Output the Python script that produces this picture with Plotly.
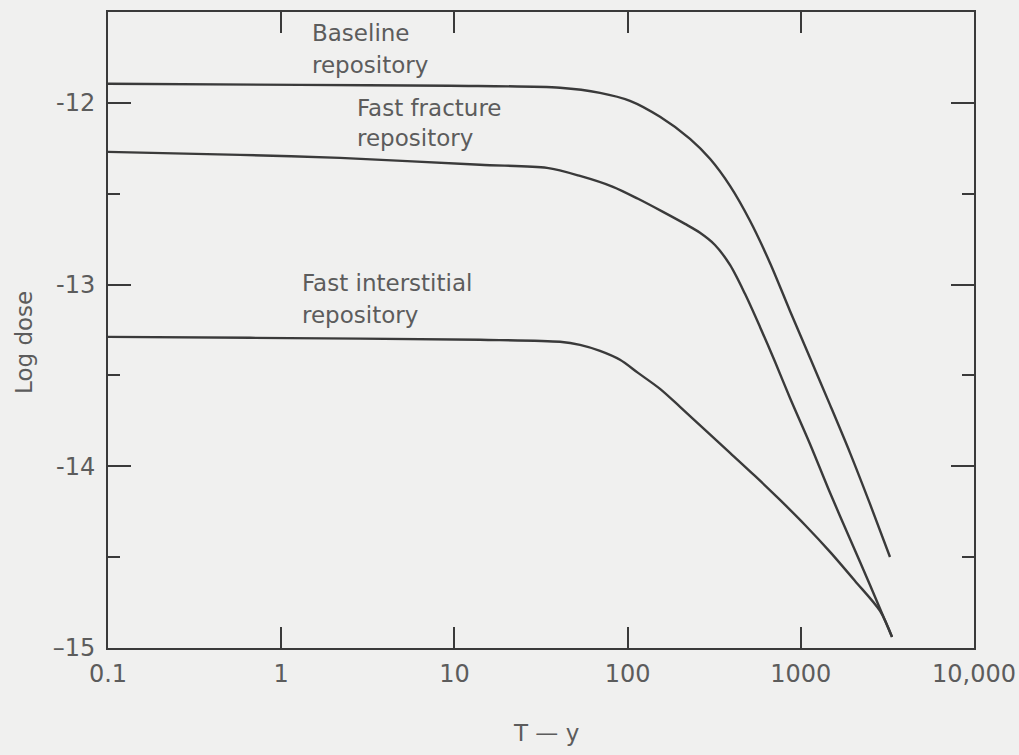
import plotly.graph_objects as go

# Time after closure (years) and log dose for each repository case
baseline_t = [0.1, 1.28, 9.43, 40.7, 69.3, 103.2, 153.9, 229.3, 299, 390.2, 508.9,
              664, 866.3, 1130, 1475, 1924, 2509, 3273]
baseline_dose = [-11.895, -11.901, -11.906, -11.917, -11.945, -11.989, -12.077,
                 -12.198, -12.308, -12.457, -12.649, -12.881, -13.145, -13.403,
                 -13.662, -13.926, -14.207, -14.499]

fracture_t = [0.1, 0.578, 2.185, 14.05, 34.25, 53.1, 82.3, 114.9, 160.1, 214.5,
              261.8, 319.5, 390.2, 476.1, 581.3, 709.8, 866.3, 1130, 1475, 1924,
              2509, 3362]
fracture_dose = [-12.270, -12.286, -12.303, -12.341, -12.358, -12.402, -12.462,
                 -12.528, -12.600, -12.666, -12.715, -12.782, -12.892, -13.051,
                 -13.233, -13.425, -13.624, -13.877, -14.146, -14.400, -14.653,
                 -14.939]

interstitial_t = [0.1, 0.661, 14.05, 40.7, 53.1, 69.3, 90.4, 114.9, 153.9, 200.8,
                  279.9, 390.2, 543.9, 758.5, 1057.5, 1475, 2056, 2866, 3362]
interstitial_dose = [-13.288, -13.293, -13.304, -13.315, -13.332, -13.365, -13.414,
                     -13.486, -13.574, -13.673, -13.800, -13.926, -14.053, -14.185,
                     -14.323, -14.471, -14.631, -14.796, -14.939]

x_tickvals = [0.1, 1, 10, 100, 1000, 10000]
x_ticktext = ["0.1", "1", "10", "100", "1000", "10,000"]
y_tickvals = [-15, -14, -13, -12]
y_ticktext = ["\u201315", "-14", "-13", "-12"]

labels = {
    "baseline": ["Baseline", "repository"],
    "fracture": ["Fast fracture", "repository"],
    "interstitial": ["Fast interstitial", "repository"],
}

LINE = "#3a3a3a"
TEXT = "#5c5c5c"
BG = "#f0f0ef"
FONT = "DejaVu Sans, Verdana, sans-serif"

# plot-area edges in pixels, used to place the axis titles
L, R, T, B = 108, 974, 12, 648

fig = go.Figure()
for t, d in [(baseline_t, baseline_dose), (fracture_t, fracture_dose),
             (interstitial_t, interstitial_dose)]:
    fig.add_trace(go.Scatter(
        x=t, y=d, mode="lines",
        line=dict(color=LINE, width=2.4, shape="spline", smoothing=0.85),
        showlegend=False, hoverinfo="skip",
    ))

# curve labels, one annotation per text line (log10 x positions)
label_pos = {
    "baseline": (0.166, [-11.615, -11.79]),
    "fracture": (0.426, [-12.028, -12.193]),
    "interstitial": (0.109, [-12.99, -13.167]),
}
annotations = []
for key, lines in labels.items():
    lx, ys = label_pos[key]
    for txt, ly in zip(lines, ys):
        annotations.append(dict(
            x=lx, y=ly, xref="x", yref="y", text=txt, showarrow=False,
            xanchor="left", yanchor="middle",
            font=dict(family=FONT, size=23, color=TEXT),
        ))

# axis titles
annotations.append(dict(
    xref="paper", yref="paper",
    x=(546 - L) / (R - L), y=-(733 - B) / (B - T),
    text="T \u2014 y", showarrow=False,
    xanchor="center", yanchor="middle",
    font=dict(family=FONT, size=23, color=TEXT),
))
annotations.append(dict(
    xref="paper", yref="paper",
    x=-(L - 24) / (R - L), y=(B - 343) / (B - T),
    text="Log dose", showarrow=False, textangle=-90,
    xanchor="center", yanchor="middle",
    font=dict(family=FONT, size=23, color=TEXT),
))

fig.update_layout(
    width=1019, height=755,
    margin=dict(l=L, r=1019 - R, t=T, b=755 - B),
    paper_bgcolor=BG, plot_bgcolor=BG,
    annotations=annotations,
    font=dict(family=FONT, size=24, color=TEXT),
)

fig.update_xaxes(
    type="log", range=[-1, 4], automargin=False,
    tickvals=x_tickvals, ticktext=x_ticktext,
    ticks="inside", ticklen=21, tickwidth=2, tickcolor=LINE,
    showline=True, linecolor=LINE, linewidth=2, mirror="ticks",
    showgrid=False, zeroline=False,
    tickfont=dict(family=FONT, size=24, color=TEXT),
    ticklabelstandoff=3,
)
fig.update_yaxes(
    range=[-15, -11.5], automargin=False,
    tickvals=y_tickvals, ticktext=y_ticktext,
    ticks="inside", ticklen=23, tickwidth=2, tickcolor=LINE,
    minor=dict(dtick=0.5, tick0=-15, ticks="inside", ticklen=12,
               tickwidth=2, tickcolor=LINE),
    showline=True, linecolor=LINE, linewidth=2, mirror="ticks",
    showgrid=False, zeroline=False,
    tickfont=dict(family=FONT, size=24, color=TEXT),
    ticklabelstandoff=6,
)

fig.write_html("out.html")
